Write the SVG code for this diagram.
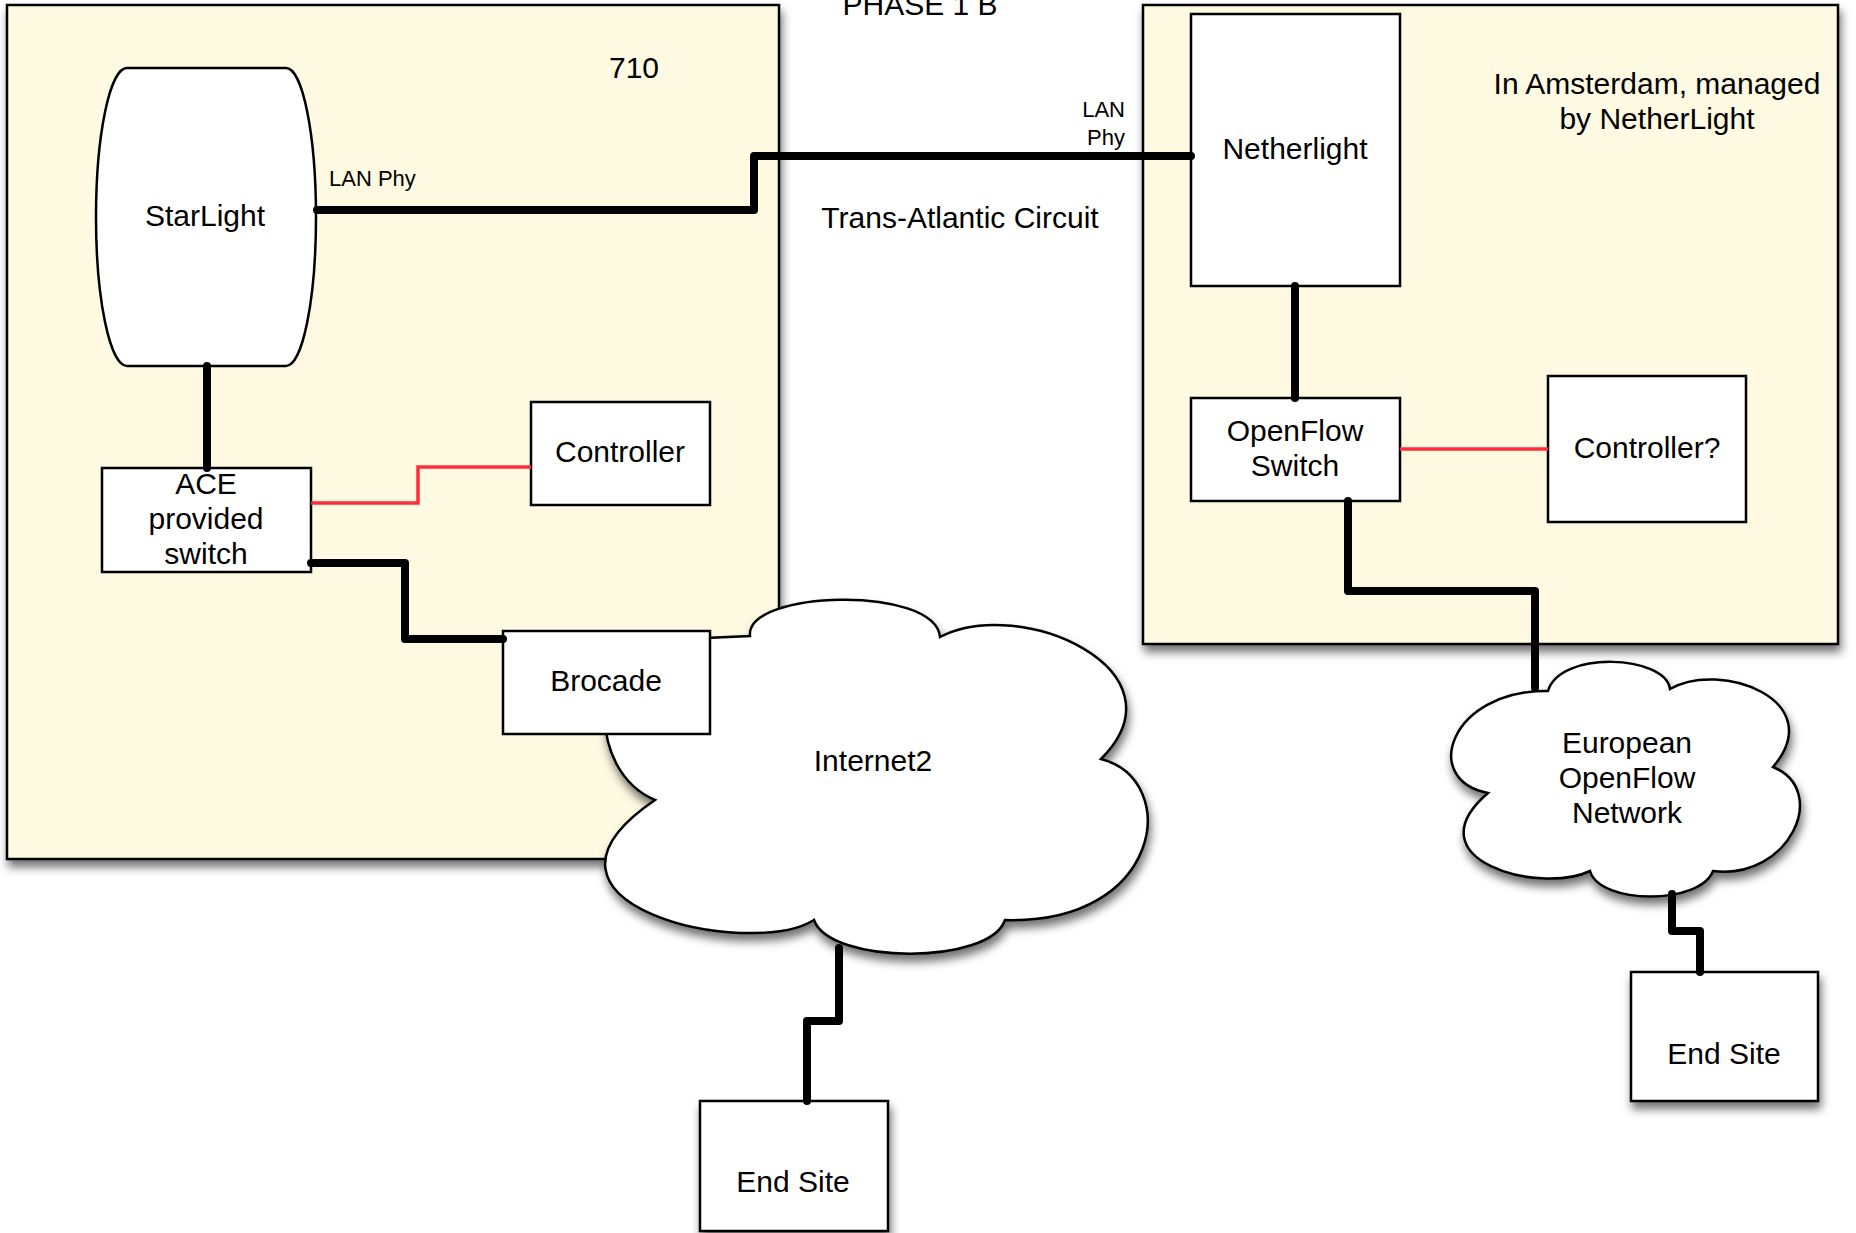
<svg xmlns="http://www.w3.org/2000/svg" width="1856" height="1233" viewBox="0 0 1856 1233">
<defs>
<filter id="sh" x="-10%" y="-10%" width="130%" height="130%">
<feDropShadow dx="2" dy="7" stdDeviation="5" flood-color="#000" flood-opacity="0.55"/>
</filter>
<style>
.panel{fill:#fef9e1;stroke:#000;stroke-width:2.5}
.box{fill:#fff;stroke:#000;stroke-width:2.5}
.cloud{fill:#fff;stroke:#000;stroke-width:2.5;stroke-linejoin:miter}
.t{font-family:"Liberation Sans",Arial,sans-serif;font-size:30px;fill:#000;text-anchor:middle}
.s{font-family:"Liberation Sans",Arial,sans-serif;font-size:22px;fill:#000}
.blk{fill:none;stroke:#000;stroke-width:8;stroke-linecap:round;stroke-linejoin:round}
.red{fill:none;stroke:#ff2d3a;stroke-width:3.5}
</style>
</defs>
<rect width="1856" height="1233" fill="#fff"/>

<g id="panel-710">
<rect class="panel" x="7" y="5" width="772" height="854" filter="url(#sh)"/>
<text class="t" x="634" y="78">710</text>
</g>
<g id="panel-amsterdam">
<rect class="panel" x="1143" y="5" width="695" height="639" filter="url(#sh)"/>
<text class="t" x="1657" y="94">In Amsterdam, managed</text>
<text class="t" x="1657" y="129">by NetherLight</text>
</g>
<text id="title" class="t" x="920" y="15">PHASE 1 B</text>

<g id="internet2">
<path class="cloud" filter="url(#sh)" d="M750,636 C745,590 935,585 940,637 C1020,595 1190,670 1101,759 C1182,780 1162,925 1005,920 C990,965 830,965 814,920 C750,960 500,905 655,800 C585,770 590,650 660,640 L750,636 Z"/>
<text class="t" x="873" y="771">Internet2</text>
</g>
<g id="european">
<path class="cloud" filter="url(#sh)" d="M1548,691 C1560,650 1665,655 1670,689 C1720,660 1830,700 1773,767 C1830,790 1790,880 1713,871 C1700,905 1600,905 1590,871 C1540,895 1410,860 1488,793 C1420,780 1450,690 1548,691 Z"/>
<text class="t" x="1627" y="753">European</text>
<text class="t" x="1627" y="788">OpenFlow</text>
<text class="t" x="1627" y="823">Network</text>
</g>

<g id="starlight">
<path class="box" d="M127,68 L286,68 A30 149 0 0 1 286,366 L127,366 A31 149 0 0 1 127,68 Z"/>
<text class="t" x="205" y="226">StarLight</text>
</g>
<g id="ace-switch">
<rect class="box" x="102" y="468" width="209" height="104"/>
<text class="t" x="206" y="494">ACE</text>
<text class="t" x="206" y="529">provided</text>
<text class="t" x="206" y="564">switch</text>
</g>
<g id="controller">
<rect class="box" x="531" y="402" width="179" height="103"/>
<text class="t" x="620" y="462">Controller</text>
</g>
<g id="brocade">
<rect class="box" x="503" y="631" width="207" height="103"/>
<text class="t" x="606" y="691">Brocade</text>
</g>
<g id="netherlight">
<rect class="box" x="1191" y="14" width="209" height="272"/>
<text class="t" x="1295" y="159">Netherlight</text>
</g>
<g id="openflow-switch">
<rect class="box" x="1191" y="398" width="209" height="103"/>
<text class="t" x="1295" y="441">OpenFlow</text>
<text class="t" x="1295" y="476">Switch</text>
</g>
<g id="controller2">
<rect class="box" x="1548" y="376" width="198" height="146"/>
<text class="t" x="1647" y="458">Controller?</text>
</g>
<g id="endsite1">
<rect class="box" x="700" y="1101" width="188" height="130" filter="url(#sh)"/>
<text class="t" x="793" y="1192">End Site</text>
</g>
<g id="endsite2">
<rect class="box" x="1631" y="972" width="187" height="129" filter="url(#sh)"/>
<text class="t" x="1724" y="1064">End Site</text>
</g>

<g id="connectors">
<path class="blk" d="M317,210 L754,210 L754,156 L1191,156"/>
<path class="blk" d="M207,366 L207,468"/>
<path class="red" d="M311,503 L418,503 L418,467 L531,467"/>
<path class="blk" d="M311,563 L405,563 L405,639 L503,639"/>
<path class="blk" d="M1295,286 L1295,398"/>
<path class="red" d="M1400,449 L1548,449"/>
<path class="blk" d="M1348,501 L1348,591 L1535,591 L1535,688"/>
<path class="blk" d="M839,948 L839,1021 L807,1021 L807,1101"/>
<path class="blk" d="M1672,894 L1672,931 L1700,931 L1700,972"/>
<text class="s" x="329" y="186">LAN Phy</text>
<text class="s" x="1125" y="117" text-anchor="end">LAN</text>
<text class="s" x="1125" y="145" text-anchor="end">Phy</text>
<text class="t" x="960" y="228">Trans-Atlantic Circuit</text>
</g>
</svg>
